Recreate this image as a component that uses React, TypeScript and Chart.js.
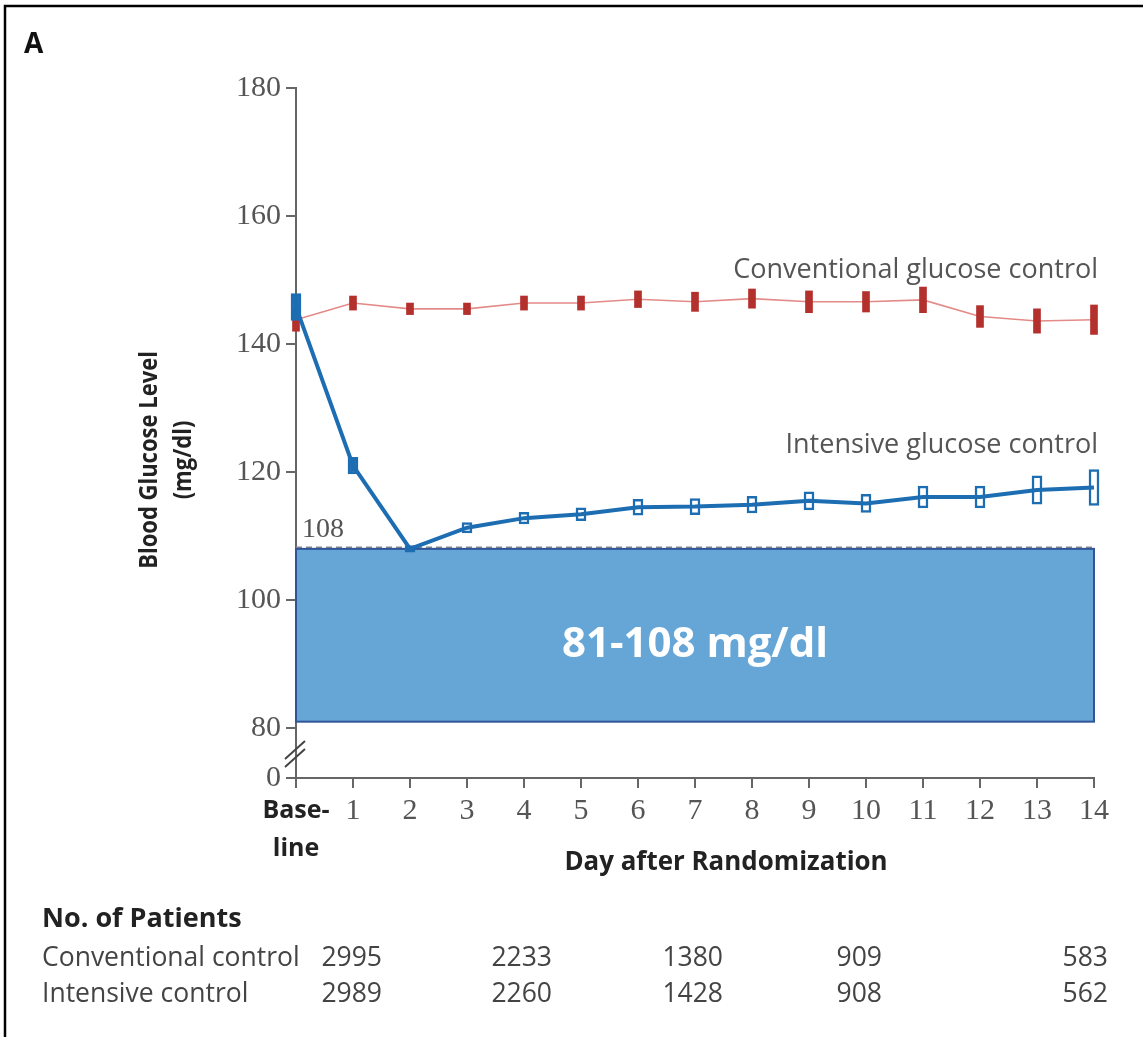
import { useEffect, useRef } from "react";
import { Chart, registerables } from "chart.js";

Chart.register(...registerables);

// Day categories on the x axis (baseline is a two-line label)
const dayLabels: (string | string[])[] = [
  ["Base-", "line"], "1", "2", "3", "4", "5", "6", "7", "8", "9", "10", "11", "12", "13", "14",
];

// Mean blood glucose (mg/dl) and half-width of the interval bar
const conventionalMean = [143.8, 146.4, 145.5, 145.5, 146.4, 146.4, 147.0, 146.6, 147.1, 146.6, 146.6, 146.9, 144.3, 143.6, 143.8];
const conventionalHalf = [1.8, 1.1, 0.9, 0.9, 1.1, 1.1, 1.3, 1.5, 1.5, 1.7, 1.6, 2.0, 1.7, 1.9, 2.3];
const intensiveMean = [145.8, 121.0, 108.0, 111.3, 112.8, 113.4, 114.5, 114.6, 114.9, 115.5, 115.1, 116.1, 116.1, 117.2, 117.6];
const intensiveHalf = [2.1, 1.3, 0.5, 0.8, 0.9, 1.0, 1.25, 1.25, 1.3, 1.4, 1.4, 1.7, 1.7, 2.2, 2.8];

// Target range band
const targetLow = 81;
const targetHigh = 108;
const targetLabel = "81-108 mg/dl";

// Y axis: 80-180 shown, then a break down to 0
const yTickValues = [80, 100, 120, 140, 160, 180];
const yMax = 180;
const yBreakGap = 7.8; // axis units between the 80 tick and the "0" tick

// Patients at risk table
const tableTitle = "No. of Patients";
const tableRowNames = ["Conventional control", "Intensive control"];
const conventionalPatients = [2995, 2233, 1380, 909, 583];
const intensivePatients = [2989, 2260, 1428, 908, 562];

// Layout constants
const W = 1143;
const H = 1037;
const PLOT_LEFT = 296;
const PLOT_RIGHT = 1094;
const PLOT_TOP = 88;
const PLOT_BOTTOM = 778;
const tableColumnRight = [382, 552, 723, 882, 1108];

const SANS = "'Open Sans', 'DejaVu Sans', sans-serif";
const SERIF = "'Liberation Serif', 'DejaVu Serif', serif";
const TICK_GRAY = "#555";
const AXIS_GRAY = "#666";
const RED = "#B3302D";
const RED_LINE = "#E38B88";
const BLUE = "#1D6DB2";

const yMin = yTickValues[0] - yBreakGap;

const overlay = {
  id: "overlay",
  beforeDatasetsDraw(chart: any) {
    const { ctx, chartArea, scales } = chart;
    const y = scales.y;
    const top = y.getPixelForValue(targetHigh);
    const bottom = y.getPixelForValue(targetLow);
    const left = chartArea.left;
    const right = chartArea.right;

    ctx.save();
    // dashed reference line at the upper target
    ctx.setLineDash([6, 4]);
    ctx.strokeStyle = "#8a8a8a";
    ctx.lineWidth = 1.5;
    ctx.beginPath();
    ctx.moveTo(left, top - 1.5);
    ctx.lineTo(right, top - 1.5);
    ctx.stroke();
    ctx.setLineDash([]);

    // target band
    ctx.fillStyle = "#66A6D7";
    ctx.fillRect(left, top, right - left, bottom - top);
    ctx.strokeStyle = "#2F5597";
    ctx.lineWidth = 2;
    ctx.strokeRect(left, top, right - left, bottom - top);

    ctx.fillStyle = "#ffffff";
    ctx.font = `bold 42px ${SANS}`;
    ctx.textAlign = "center";
    ctx.textBaseline = "middle";
    ctx.fillText(targetLabel, (left + right) / 2, (top + bottom) / 2 + 10);

    // value tag above the band
    ctx.fillStyle = TICK_GRAY;
    ctx.font = `28px ${SERIF}`;
    ctx.textAlign = "left";
    ctx.textBaseline = "alphabetic";
    ctx.fillText(String(targetHigh), left + 6, top - 12);
    ctx.restore();
  },
  afterDraw(chart: any) {
    const { ctx, chartArea, scales } = chart;
    const y = scales.y;
    ctx.save();

    // panel frame (top and left rules)
    ctx.strokeStyle = "#000";
    ctx.lineWidth = 2.5;
    ctx.beginPath();
    ctx.moveTo(W, 6);
    ctx.lineTo(5, 6);
    ctx.lineTo(5, H);
    ctx.stroke();

    // panel letter
    ctx.fillStyle = "#111";
    ctx.font = `bold 28px ${SANS}`;
    ctx.textAlign = "left";
    ctx.textBaseline = "middle";
    ctx.fillText("A", 24, 45);

    // axis break marks
    const breakY = (y.getPixelForValue(yTickValues[0]) + chartArea.bottom) / 2 + 1;
    ctx.strokeStyle = "#444";
    ctx.lineWidth = 2;
    for (const dy of [-4, 4]) {
      ctx.beginPath();
      ctx.moveTo(chartArea.left - 11, breakY + dy + 9);
      ctx.lineTo(chartArea.left + 9, breakY + dy - 9);
      ctx.stroke();
    }

    // y axis title (slightly condensed along the text direction)
    ctx.fillStyle = "#222";
    ctx.font = `bold 25px ${SANS}`;
    ctx.textAlign = "center";
    ctx.textBaseline = "middle";
    ctx.save();
    ctx.translate(150, 460);
    ctx.rotate(-Math.PI / 2);
    ctx.scale(0.88, 1);
    ctx.fillText("Blood Glucose Level", 0, 0);
    ctx.fillText("(mg/dl)", 0, 34);
    ctx.restore();

    // x axis title
    ctx.font = `bold 27px ${SANS}`;
    ctx.save();
    ctx.translate((chartArea.left + chartArea.right) / 2 + 31, 862);
    ctx.scale(0.96, 1);
    ctx.fillText("Day after Randomization", 0, 0);
    ctx.restore();

    // series labels
    ctx.fillStyle = "#555";
    ctx.font = `27px ${SANS}`;
    ctx.textAlign = "right";
    ctx.fillText("Conventional glucose control", chartArea.right + 4, y.getPixelForValue(151.5));
    ctx.fillText("Intensive glucose control", chartArea.right + 4, y.getPixelForValue(124.2));

    // patients table
    ctx.textAlign = "left";
    ctx.fillStyle = "#222";
    ctx.font = `bold 27px ${SANS}`;
    ctx.fillText(tableTitle, 42, 919);
    ctx.fillStyle = "#444";
    ctx.font = `26.5px ${SANS}`;
    const rows = [conventionalPatients, intensivePatients];
    const rowY = [958, 994];
    rows.forEach((row, r) => {
      ctx.textAlign = "left";
      ctx.fillText(tableRowNames[r], 42, rowY[r]);
      ctx.textAlign = "right";
      row.forEach((n, i) => ctx.fillText(String(n), tableColumnRight[i], rowY[r]));
    });

    ctx.restore();
  },
};

export default function App() {
  const canvasRef = useRef<HTMLCanvasElement | null>(null);

  useEffect(() => {
    const canvas = canvasRef.current;
    if (!canvas) return;

    const intensiveRanges = intensiveMean.map((m, i) => [m - intensiveHalf[i], m + intensiveHalf[i]]);
    const conventionalRanges = conventionalMean.map((m, i) => [m - conventionalHalf[i], m + conventionalHalf[i]]);

    const chart = new Chart(canvas, {
      type: "bar",
      data: {
        labels: dayLabels as any,
        datasets: [
          {
            type: "line",
            label: "Intensive glucose control",
            data: intensiveMean,
            borderColor: BLUE,
            borderWidth: 4,
            pointRadius: 0,
            tension: 0,
            clip: false,
            order: 0,
          } as any,
          {
            type: "bar",
            label: "Intensive interval",
            data: intensiveRanges,
            backgroundColor: intensiveMean.map((_, i) => (i < 3 ? BLUE : "#ffffff")),
            borderColor: BLUE,
            borderWidth: 2.5,
            borderSkipped: false,
            barThickness: 10,
            grouped: false,
            clip: false,
            order: 2,
          } as any,
          {
            type: "bar",
            label: "Conventional interval",
            data: conventionalRanges,
            backgroundColor: RED,
            borderWidth: 0,
            barThickness: 7,
            grouped: false,
            clip: false,
            order: 3,
          } as any,
          {
            type: "line",
            label: "Conventional glucose control",
            data: conventionalMean,
            borderColor: RED_LINE,
            borderWidth: 1.6,
            pointRadius: 0,
            tension: 0,
            clip: false,
            order: 4,
          } as any,
        ],
      },
      options: {
        responsive: false,
        animation: false,
        devicePixelRatio: 1,
        layout: { padding: { top: PLOT_TOP, right: W - PLOT_RIGHT, left: 0, bottom: 0 } },
        plugins: { legend: { display: false }, tooltip: { enabled: false } },
        scales: {
          x: {
            type: "category",
            offset: false,
            grid: { display: true, drawOnChartArea: false, drawTicks: true, tickLength: 10, color: AXIS_GRAY, lineWidth: 2, offset: false },
            border: { display: true, color: AXIS_GRAY, width: 2 },
            ticks: {
              autoSkip: false,
              maxRotation: 0,
              padding: 4,
              color: (c: any) => (c.index === 0 ? "#222" : TICK_GRAY),
              font: (c: any) =>
                c.index === 0
                  ? { family: SANS, size: 25, weight: "bold", lineHeight: "38px" }
                  : { family: SERIF, size: 30, lineHeight: "38px" },
            },
            afterFit: (s: any) => {
              s.height = H - PLOT_BOTTOM;
            },
          },
          y: {
            type: "linear",
            min: yMin,
            max: yMax,
            grid: { display: true, drawOnChartArea: false, drawTicks: true, tickLength: 10, color: AXIS_GRAY, lineWidth: 2 },
            border: { display: true, color: AXIS_GRAY, width: 2 },
            ticks: {
              padding: 5,
              color: TICK_GRAY,
              font: { family: SERIF, size: 30 },
              callback: (v: any) => (v === yMin ? "0" : String(v)),
            },
            afterBuildTicks: (s: any) => {
              s.ticks = [yMin, ...yTickValues].map((v) => ({ value: v }));
            },
            afterFit: (s: any) => {
              s.width = PLOT_LEFT;
            },
          },
        },
      },
      plugins: [overlay],
    });

    return () => chart.destroy();
  }, []);

  return (
    <div style={{ position: "absolute", left: 0, top: 0, width: W, height: H, background: "#fff" }}>
      <canvas ref={canvasRef} width={W} height={H} style={{ display: "block" }} />
    </div>
  );
}
